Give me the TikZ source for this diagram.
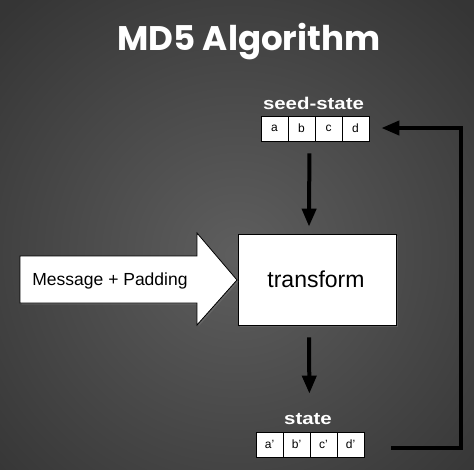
\documentclass[tikz,border=0pt]{standalone}
\usepackage{fontspec}
\setmainfont{Liberation Sans}
\newfontfamily\titlefont{Poppins}
\usetikzlibrary{arrows.meta,shadows}
\definecolor{bgin}{HTML}{5e5e5e}
\definecolor{bgout}{HTML}{353535}
\tikzset{
  cell/.style={draw=black, fill=white, line width=0.8pt, minimum width=27pt, minimum height=25pt, inner sep=0pt, font=\fontsize{12}{13}\selectfont},
  lbl/.style={text=white, font=\bfseries\fontsize{17}{18}\selectfont, inner sep=0pt},
  arr/.style={line width=4pt, -{Triangle[length=18pt,width=14pt]}},
  shad/.style={drop shadow={opacity=0.35, shadow xshift=1.5pt, shadow yshift=-1.5pt}},
}
\begin{document}
\begin{tikzpicture}[x=1pt,y=-1pt]
\useasboundingbox (0,0) rectangle (474,469);
\shade[inner color=bgin, outer color=bgout] (-100,-80) rectangle (574,589);
% title
\node[anchor=base, text=white, inner sep=0pt] (title) at (249,50)
  {\resizebox{263pt}{!}{\titlefont\bfseries MD5 Algorithm}};
% seed-state
\node[lbl] (seedlbl) at (313.5,103) {\scalebox{1.2}[1]{seed-state}};
\node[cell] (sa) at (274.5,128.5) {a};
\node[cell] (sb) at (301.5,128.5) {b};
\node[cell] (sc) at (328.5,128.5) {c};
\node[cell] (sd) at (355.5,128.5) {d};
% state
\node[lbl] (statelbl) at (308,419.5) {\scalebox{1.2}[1]{state}};
\node[cell] (ta) at (269.5,444.5) {a'};
\node[cell] (tb) at (296.5,444.5) {b'};
\node[cell] (tc) at (323.5,444.5) {c'};
\node[cell] (td) at (350.5,444.5) {d'};
% transform
\node[draw=black, fill=white, line width=0.8pt, minimum width=158pt, minimum height=91pt, shad] (transform) at (317,279.5) {};
\node[anchor=base, inner sep=0pt, font=\fontsize{23}{24}\selectfont] (tlabel) at (316,287) {transform};
% big arrow
\draw[draw=black, fill=white, line width=0.8pt, shad] (20,256) -- (197,256) -- (197,233) -- (237,280) -- (197,325) -- (197,303) -- (20,303) -- cycle;
\node[anchor=base, inner sep=0pt, font=\fontsize{17.5}{18}\selectfont] (msg) at (110,285.5) {Message + Padding};
% arrows
\draw[arr] ([xshift=-6pt,yshift=-12pt]sb.south east) -- ([xshift=-8pt,yshift=7pt]transform.north);
\draw[arr] ([xshift=-8pt,yshift=-12pt]transform.south) -- ([xshift=-1pt,yshift=38pt]tb.north east);
\draw[arr, line join=miter] ([xshift=27pt,yshift=-3.5pt]td.east) -- ++(70,0) |- ([xshift=12pt,yshift=0.5pt]sd.east);
\end{tikzpicture}
\end{document}
